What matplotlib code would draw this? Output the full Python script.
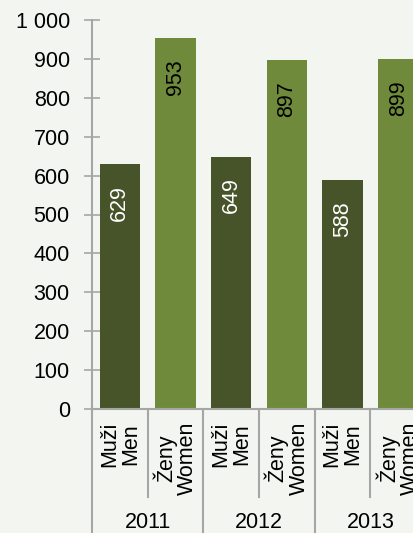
import numpy as np
import matplotlib.pyplot as plt
from matplotlib.transforms import blended_transform_factory
from matplotlib.lines import Line2D

years = ['2011', '2012', '2013']
sexes = ['Muži\nMen', 'Ženy\nWomen']
men = [629, 649, 588]
women = [953, 897, 899]
yticks = [0, 100, 200, 300, 400, 500, 600, 700, 800, 900, 1000]
ytick_labels = ['0', '100', '200', '300', '400', '500', '600', '700', '800', '900', '1 000']

bg = '#f3f5f0'
c_men = '#475429'
c_women = '#708a3b'
grey = '#a6a6a6'
fs = 15.5

plt.rcParams['font.family'] = ['Liberation Sans', 'DejaVu Sans']

fig = plt.figure(figsize=(4.14, 5.33), dpi=100, facecolor=bg)
ax = fig.add_axes([92 / 414, 124 / 533, 334 / 414, 389 / 533], facecolor=bg)

values = []
colors = []
for m, w in zip(men, women):
    values += [m, w]
    colors += [c_men, c_women]
x = np.arange(len(values))
bars = ax.bar(x, values, width=0.72, color=colors)

for xi, v, c in zip(x, values, colors):
    ax.annotate(str(v), (xi, v), xytext=(0, -15), textcoords='offset points',
                rotation=90, ha='center', va='top', fontsize=fs,
                color='white' if c == c_men else 'black')

ax.set_xlim(-0.5, len(values) - 0.5)
ax.set_ylim(0, 1000)
ax.set_yticks(yticks)
ax.set_yticklabels(ytick_labels, fontsize=fs)
ax.tick_params(axis='y', direction='inout', length=12, width=1.2, color=grey, pad=10)
ax.set_xticks([])
for s in ['top', 'right']:
    ax.spines[s].set_visible(False)
for s in ['left', 'bottom']:
    ax.spines[s].set_color(grey)
    ax.spines[s].set_linewidth(1.5)

tr = blended_transform_factory(ax.transData, ax.transAxes)
for i, xi in enumerate(x):
    ax.annotate(sexes[i % 2], (xi, 0), xycoords=tr, xytext=(0, -9),
                textcoords='offset points', rotation=90, ha='center', va='top',
                multialignment='center', linespacing=1.0, fontsize=fs)

for b in np.arange(-0.5, len(values), 1.0):
    low = -0.319 if int(b + 0.5) % 2 == 0 else -0.226
    ax.add_line(Line2D([b, b], [0, low], transform=tr, color=grey,
                       linewidth=1.5, clip_on=False))

for j, yr in enumerate(years):
    ax.text(2 * j + 0.5, -0.293, yr, transform=tr, ha='center', va='center',
            fontsize=fs)

fig.savefig('out.png', dpi=100, facecolor=bg)
